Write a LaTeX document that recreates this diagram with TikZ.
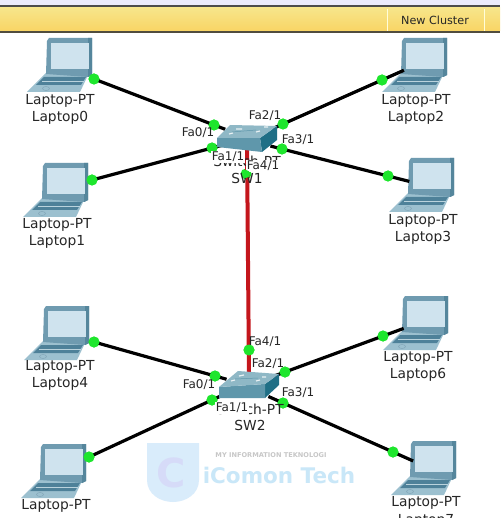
\documentclass[tikz,border=0pt]{standalone}
\usepackage{fontspec}
\setmainfont{DejaVu Sans}
\usetikzlibrary{calc}
\definecolor{lapframe}{HTML}{6F9BB0}
\definecolor{lapdark}{HTML}{55869C}
\definecolor{lapscreen}{HTML}{CFE3EE}
\definecolor{lapbase}{HTML}{9CC0CF}
\definecolor{lapkey}{HTML}{4E8199}
\definecolor{swtop}{HTML}{8FB8C6}
\definecolor{swfront}{HTML}{5F97AB}
\definecolor{swside}{HTML}{1F6F86}
\definecolor{portgreen}{HTML}{1EE62D}
\definecolor{linkred}{HTML}{C4161C}
\definecolor{bandtop}{HTML}{F7E58A}
\definecolor{bandbot}{HTML}{F9D565}
\definecolor{wmshield}{HTML}{D9ECFB}
\definecolor{wmc}{HTML}{D6DBF8}
\definecolor{wmtext}{HTML}{C9E7F8}
\tikzset{
  devlabel/.style={font=\fontsize{13.8}{14}\selectfont,inner sep=0pt,text=black!85},
  portlabel/.style={font=\fontsize{12}{12}\selectfont,inner sep=0.6pt,text=black!85},
  coverlabel/.style={portlabel,fill=white},
  port/.style={circle,fill=portgreen,draw=none,minimum size=11pt,inner sep=0pt},
  cable/.style={line width=3.2pt,black},
  trunk/.style={line width=4pt,linkred},
  laptop/.pic={
    \fill[lapbase] (-1,35) -- (42,35) -- (33,54) -- (-20,54) -- cycle;
    \fill[lapkey] (-3,39) -- (39,39) -- (34,47) -- (-11,47) -- cycle;
    \draw[lapbase!70!white,line width=.5pt] (-5,43) -- (37,43);
    \draw[lapkey!70!white,line width=.5pt] (-1,50.5) ellipse (3.5 and 2);
    \fill[lapframe] (0,3) -- (2,0) -- (45,0) -- (45,37) -- (41,39) -- (-1,36) -- cycle;
    \fill[lapdark] (41,0) -- (45,0) -- (45,37) -- (41,39) -- cycle;
    \fill[lapscreen] (4,5) -- (42,5) -- (42,31) -- (4,31) -- cycle;
  }
}
\begin{document}
\begin{tikzpicture}[x=1pt,y=-1pt]
\useasboundingbox (0,0) rectangle (500,518);
\clip (0,0) rectangle (500,518);
\fill[white] (0,0) rectangle (500,518);
% toolbar
\fill[black!12!blue!8!white] (0,0) rectangle (500,5);
\fill[black!70] (0,5.5) rectangle (500,8);
\shade[top color=bandtop,bottom color=bandbot] (0,8) rectangle (500,31);
\fill[black!65!yellow!60!black] (0,31) rectangle (500,33);
\draw[white!85!yellow,line width=1pt] (387,9) -- (387,31) (484,9) -- (484,31);
\node[inner sep=0pt,font=\fontsize{11.2}{11}\selectfont,text=black!85] (newcl) at (435,20) {New Cluster};
% watermark
\fill[wmshield] (147,443) -- (199,443) -- (199,480) .. controls (199,494) and (186,502) .. (173,502) .. controls (160,502) and (147,494) .. (147,480) -- cycle;
\node[inner sep=0pt,font=\bfseries\fontsize{40}{40}\selectfont,text=wmc] (wmcl) at (171,473) {C};
\node[inner sep=0pt,font=\bfseries\fontsize{6.6}{7}\selectfont,text=black!22] (wmtop) at (271,455) {MY INFORMATION TEKNOLOGI};
\node[inner sep=0pt,font=\bfseries\fontsize{21.5}{22}\selectfont,text=wmtext] (wmname) at (279,475) {iComon Tech};
% laptops
\pic at (47,38) {laptop};
\pic at (402,38) {laptop};
\pic at (43,163) {laptop};
\pic at (409,158) {laptop};
\pic at (44,306) {laptop};
\pic at (403,296) {laptop};
\pic at (41,444) {laptop};
\pic at (411,441) {laptop};
% ports at laptops
\node[port] (d0) at (94,79) {};
\node[port] (d1) at (92,180) {};
\node[port] (d2) at (382,80) {};
\node[port] (d3) at (388,176) {};
\node[port] (d4) at (94,342) {};
\node[port] (d5) at (89,457) {};
\node[port] (d6) at (383,336) {};
\node[port] (d7) at (393,452) {};
% switch-side ports
\node[port] (a0) at (214,125) {};
\node[port] (a1) at (212,148) {};
\node[port] (a2) at (283,124) {};
\node[port] (a3) at (282,149) {};
\node[port] (a4) at (246,174) {};
\node[port] (b0) at (215,376) {};
\node[port] (b1) at (212,400) {};
\node[port] (b2) at (285,372) {};
\node[port] (b3) at (283,403) {};
\node[port] (b4) at (249,350) {};
% cables
\draw[cable,shorten >=-12pt] (d0.center) -- (a0.center);
\draw[cable,shorten >=-12pt] (d1.center) -- (a1.center);
\draw[cable,shorten <=-24pt,shorten >=-12pt] (d2.center) -- (a2.center);
\draw[cable,shorten <=-22pt,shorten >=-12pt] (d3.center) -- (a3.center);
\draw[cable,shorten >=-12pt] (d4.center) -- (b0.center);
\draw[cable,shorten >=-12pt] (d5.center) -- (b1.center);
\draw[cable,shorten <=-22pt,shorten >=-12pt] (d6.center) -- (b2.center);
\draw[cable,shorten <=-22pt,shorten >=-16pt] (d7.center) -- (b3.center);
% redraw ports above cables
\foreach \p in {d0,d1,d2,d3,d4,d5,d6,d7,a0,a1,a2,a3,b0,b1,b2,b3}
  \fill[portgreen] (\p) circle (5.5);
% trunk
\coordinate (sw1) at (247,145);
\coordinate (sw2) at (249,378);
\draw[trunk] (sw1) -- (sw2);
\fill[portgreen] (b4) circle (5.5);
% switches
\fill[swside] (260,138) -- (277,126) -- (277,140) -- (262,152) -- cycle;
\fill[swfront] (217,138) -- (260,138) -- (262,152) -- (217,147) -- cycle;
\fill[swtop] (217,138) -- (230,125) -- (277,126) -- (260,138) -- cycle;
\draw[white!80!swtop,line width=1.2pt] (236,129) -- (242,129) (264,127) -- (268,127) (229,134) -- (233,133) (256,132) -- (260,131);
\draw[swfront,line width=.5pt] (232,132) -- (256,130);
\fill[swside] (265,384) -- (279,374) -- (279,385) -- (265,398) -- cycle;
\fill[swfront] (219,387) -- (265,384) -- (265,398) -- (219,398) -- cycle;
\fill[swtop] (219,387) -- (238,371) -- (279,374) -- (265,384) -- cycle;
\draw[white!80!swtop,line width=1.2pt] (239,376) -- (244,375) (262,377) -- (266,377) (231,381) -- (235,380) (256,381) -- (260,380);
\draw[swfront,line width=.5pt] (235,379) -- (258,378);
% device labels
\node[devlabel] (l0a) at (60,101) {Laptop-PT};
\node[devlabel] (l0b) at (60,118) {Laptop0};
\node[devlabel] (l1a) at (57,225) {Laptop-PT};
\node[devlabel] (l1b) at (57,242) {Laptop1};
\node[devlabel] (l2a) at (416,101) {Laptop-PT};
\node[devlabel] (l2b) at (416,118) {Laptop2};
\node[devlabel] (l3a) at (423,221) {Laptop-PT};
\node[devlabel] (l3b) at (423,238) {Laptop3};
\node[devlabel] (l4a) at (60,367) {Laptop-PT};
\node[devlabel] (l4b) at (60,384) {Laptop4};
\node[devlabel] (l5a) at (56,506) {Laptop-PT};
\node[devlabel] (l6a) at (418,358) {Laptop-PT};
\node[devlabel] (l6b) at (418,375) {Laptop6};
\node[devlabel] (l7a) at (426,503) {Laptop-PT};
\node[devlabel] (l7b) at (426,521) {Laptop7};
\node[devlabel] (s1a) at (247,161) {Switch-PT};
\node[devlabel] (s1b) at (247,178) {SW1};
\node[devlabel] (s2a) at (250,409) {Switch-PT};
\node[devlabel] (s2b) at (250,425) {SW2};
% port labels
\node[portlabel] (t0) at (198,133) {Fa0/1};
\node[coverlabel] (t1) at (228,157) {Fa1/1};
\node[portlabel] (t2) at (265,116) {Fa2/1};
\node[portlabel] (t3) at (298,140) {Fa3/1};
\node[coverlabel] (t4) at (263,166) {Fa4/1};
\fill[portgreen] (a4) circle (4);
\node[portlabel] (u0) at (199,385) {Fa0/1};
\node[coverlabel] (u1) at (232,408) {Fa1/1};
\node[portlabel] (u2) at (268,364) {Fa2/1};
\node[portlabel] (u3) at (298,393) {Fa3/1};
\node[portlabel] (u4) at (265,342) {Fa4/1};
\end{tikzpicture}
\end{document}
